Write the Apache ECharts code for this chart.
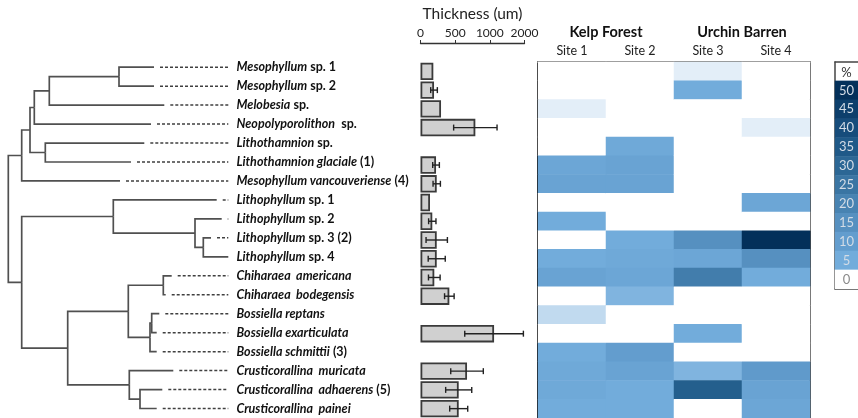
<!DOCTYPE html>
<html><head><meta charset="utf-8">
<script src="https://cdn.jsdelivr.net/npm/echarts@6/dist/echarts.min.js"></script>
<style>html,body{margin:0;padding:0;background:#fff}#c{width:858px;height:418px}</style>
</head><body><div id="c"></div>
<script>
// ---- taxa (rows, top to bottom) ----
const taxaItalic = ['Mesophyllum','Mesophyllum','Melobesia','Neopolyporolithon','Lithothamnion','Lithothamnion glaciale','Mesophyllum vancouveriense','Lithophyllum','Lithophyllum','Lithophyllum','Lithophyllum','Chiharaea  americana','Chiharaea  bodegensis','Bossiella reptans','Bossiella exarticulata','Bossiella schmittii','Crusticorallina  muricata','Crusticorallina  adhaerens','Crusticorallina  painei'];
const taxaSuffix = ['sp. 1','sp. 2','sp.',' sp.','sp.','(1)','(4)','sp. 1','sp. 2','sp. 3 (2)','sp. 4','','','','','(3)','','(5)',''];

// ---- tree: tip depths (branch end), internal node depths and children ----
const tipDepth = [154, 154, 164.3, 151, 144.3, 131, 120, 216.7, 221.7, 211, 228.3, 171.7, 165.7, 159.3, 156.7, 156.7, 173.3, 162.3, 156.7];
const nodeDepth = {root: 8.3, C: 21.7, B: 30, A: 34.3, MM: 49.3, Meso: 119, Lt: 45.3, D: 21.7, P: 113.3, P2: 195, P3: 203.3, E: 67.7, F: 128.3, G: 163.3, H: 150, H2: 151.7, I: 129.3, J: 140};
const nodeChildren = {root: ['C','D'], C: ['B', 6], B: ['A','Lt'], A: ['MM', 3], MM: ['Meso', 2], Meso: [0, 1], Lt: [4, 5],
  D: ['P','E'], P: [7,'P2'], P2: [8,'P3'], P3: [9, 10], E: ['F','I'], F: ['G','H'], G: [11, 12], H: ['H2', 15], H2: [13, 14], I: [16,'J'], J: [17, 18]};

// ---- thickness (um) ----
const thickness    = [185, 195, 296, 791, null, 224, 234, 137, 170, 234, 234, 199, 416, null, 1061, null, 671, 551, 551];
const thicknessErr = [null, 48, null, 313, null, 48, 53, null, 53, 154, 123, 84, 69, null, 423, null, 235, 188, 130];
const thicknessTickLabels = ['0','500','1000','2000'];

// ---- heatmap (% cover) ----
const sites = ['Site 1','Site 2','Site 3','Site 4'];
const habitats = ['Kelp Forest','Urchin Barren'];
const site1 = [0, 0, 1, 0, 0, 7, 8, 0, 5, 0, 5, 8, 0, 2.2, 0, 5, 6, 6, 5];
const site2 = [0, 0, 0, 0, 6, 8, 8, 0, 0, 5, 6, 7, 4.5, 0, 0, 10, 8, 5, 5];
const site3 = [1, 5, 0, 0, 0, 0, 0, 0, 0, 15, 7, 22, 0, 0, 5, 0, 4.5, 33, 0];
const site4 = [0, 0, 0, 1, 0, 0, 0, 7, 0, 50, 15, 5, 0, 0, 0, 0, 11, 8, 7];

// ---- colour key ----
const legendSteps = [50, 45, 40, 35, 30, 25, 20, 15, 10, 5, 0];
const legendColors = ['#ffffff','#72acdb','#639dce','#5690c0','#4883b2','#3a75a3','#2c6795','#1f5988','#164c7b','#0d3f6c','#03305a']; // 0 -> 50

// ---- build tree geometry from the data ----
function nodeY(n) { if (typeof n === 'number') return n; const c = nodeChildren[n]; return (nodeY(c[0]) + nodeY(c[c.length - 1])) / 2; }
function nodeX(n) { return typeof n === 'number' ? tipDepth[n] : nodeDepth[n]; }
const branches = [];
Object.keys(nodeChildren).forEach(p => {
  const px = nodeX(p), py = nodeY(p);
  nodeChildren[p].forEach(ch => {
    const cy = nodeY(ch);
    branches.push({coords: [[px, py], [px, cy], [nodeX(ch), cy]]});
  });
});
const treeMax = 230, leaderEnd = 228.3, leaderGap = 6;
const leaders = [];
tipDepth.forEach((d, i) => { if (d + leaderGap < leaderEnd) leaders.push({coords: [[d + leaderGap, i], [leaderEnd, i]]}); });

const heatData = [];
[site1, site2, site3, site4].forEach((arr, s) => arr.forEach((v, r) => heatData.push([s, r, v])));
const legendRows = ['%'].concat(legendSteps.map(String));
const legendData = legendSteps.map((v, i) => ({value: [0, i + 1, v], label: {color: v === 0 ? '#8a8a8a' : '#d3dce6'}}));

const FONT = 'Lato, "Open Sans", sans-serif';
const chart = echarts.init(document.getElementById('c'), null, {renderer: 'canvas'});
const rowIdx = taxaItalic.map((_, i) => i);

chart.setOption({
  animation: false,
  textStyle: {fontFamily: FONT, color: '#111'},
  grid: [
    {left: 0, width: treeMax, top: 57.7, bottom: -3.3},
    {left: 420.5, width: 104, top: 62, bottom: -3.1},
    {left: 538, width: 272, top: 62, bottom: -3.1},
    {left: 835, width: 26, top: 62, height: 226.8}
  ],
  visualMap: {type: 'continuous', show: false, min: 0, max: 50, dimension: 2, seriesIndex: [3, 4], inRange: {color: legendColors}},
  xAxis: [
    {gridIndex: 0, type: 'value', min: 0, max: treeMax, show: false},
    {gridIndex: 1, type: 'value', position: 'top', offset: 19, min: 0, max: 1500, interval: 500,
      name: 'Thickness (um)', nameLocation: 'middle', nameGap: 14, nameTextStyle: {fontSize: 15.5, color: '#222', fontFamily: FONT},
      axisLine: {show: true, lineStyle: {color: '#333', width: 1.3}}, axisTick: {show: true, length: 3, lineStyle: {color: '#333'}},
      axisLabel: {fontSize: 12, color: '#222', margin: 4, formatter: v => thicknessTickLabels[Math.round(v / 500)]}, splitLine: {show: false}},
    {gridIndex: 2, type: 'category', position: 'top', data: sites,
      axisLine: {show: true, lineStyle: {color: '#7f7f7f', width: 2}}, axisTick: {show: false},
      axisLabel: {fontSize: 12.5, color: '#222', margin: 5}},
    {gridIndex: 2, type: 'category', position: 'top', offset: 14, data: habitats,
      axisLine: {show: false}, axisTick: {show: false},
      axisLabel: {fontSize: 14.5, fontWeight: 'bold', color: '#111', margin: 8}},
    {gridIndex: 3, type: 'category', position: 'top', data: ['%'],
      axisLine: {show: true, lineStyle: {color: '#444', width: 1.5}}, axisTick: {show: false},
      axisLabel: {inside: true, margin: 4, fontSize: 13, color: '#333'}},
    {gridIndex: 3, type: 'category', position: 'bottom', data: [''],
      axisLine: {show: true, lineStyle: {color: '#444', width: 1.5}}, axisTick: {show: false}, axisLabel: {show: false}}
  ],
  yAxis: [
    {gridIndex: 0, type: 'value', min: -0.5, max: 18.5, inverse: true, show: false},
    {gridIndex: 0, type: 'category', position: 'right', inverse: true, data: rowIdx,
      axisLine: {show: false}, axisTick: {show: false},
      axisLabel: {margin: 6.5, align: 'left', formatter: (v, i) => '{i|' + taxaItalic[i] + '}' + (taxaSuffix[i] ? '{n| ' + taxaSuffix[i] + '}' : ''),
        rich: {i: {fontStyle: 'italic', fontWeight: 'bold', fontSize: 12.5, color: '#111', fontFamily: FONT},
               n: {fontWeight: 'bold', fontSize: 12.5, color: '#111', fontFamily: FONT}}}},
    {gridIndex: 1, type: 'category', inverse: true, data: rowIdx, show: false},
    {gridIndex: 2, type: 'category', inverse: true, data: rowIdx,
      axisLine: {show: true, lineStyle: {color: '#111', width: 2}}, axisTick: {show: false}, axisLabel: {show: false}},
    {gridIndex: 2, type: 'category', inverse: true, position: 'right', data: rowIdx,
      axisLine: {show: true, lineStyle: {color: '#111', width: 1.5}}, axisTick: {show: false}, axisLabel: {show: false}},
    {gridIndex: 3, type: 'category', inverse: true, data: legendRows,
      axisLine: {show: true, lineStyle: {color: '#444', width: 1.5}}, axisTick: {show: false}, axisLabel: {show: false}}
  ],
  series: [
    {type: 'lines', coordinateSystem: 'cartesian2d', xAxisIndex: 0, yAxisIndex: 0, polyline: true, silent: true,
      lineStyle: {color: '#505050', width: 1.7, opacity: 1}, data: branches},
    {type: 'lines', coordinateSystem: 'cartesian2d', xAxisIndex: 0, yAxisIndex: 0, polyline: true, silent: true,
      lineStyle: {color: '#404040', width: 1.5, opacity: 1, type: [3, 2]}, data: leaders},
    {type: 'bar', xAxisIndex: 1, yAxisIndex: 2, data: thickness, barCategoryGap: '7%', z: 2,
      itemStyle: {color: '#d0d0d0', borderColor: '#3a3a3a', borderWidth: 1.8}},
    {type: 'heatmap', xAxisIndex: 2, yAxisIndex: 3, data: heatData, itemStyle: {borderWidth: 0}},
    {type: 'heatmap', xAxisIndex: 4, yAxisIndex: 5, data: legendData,
      label: {show: true, fontSize: 13, fontFamily: FONT, formatter: p => String(p.value[2])}},
    {type: 'custom', xAxisIndex: 1, yAxisIndex: 2, silent: true, z: 10,
      data: thickness.map((v, i) => thicknessErr[i] != null ? [v, i, thicknessErr[i]] : null).filter(Boolean),
      encode: {x: 0, y: 1},
      renderItem: function (params, api) {
        const v = api.value(0), i = api.value(1), e = api.value(2);
        const a = api.coord([v - e, i]), b = api.coord([v + e, i]);
        const h = 3, st = {stroke: '#222', lineWidth: 1.4};
        return {type: 'group', children: [
          {type: 'line', shape: {x1: a[0], y1: a[1], x2: b[0], y2: b[1]}, style: st},
          {type: 'line', shape: {x1: a[0], y1: a[1] - h, x2: a[0], y2: a[1] + h}, style: st},
          {type: 'line', shape: {x1: b[0], y1: b[1] - h, x2: b[0], y2: b[1] + h}, style: st}
        ]};
      }}
  ]
});
</script></body></html>
